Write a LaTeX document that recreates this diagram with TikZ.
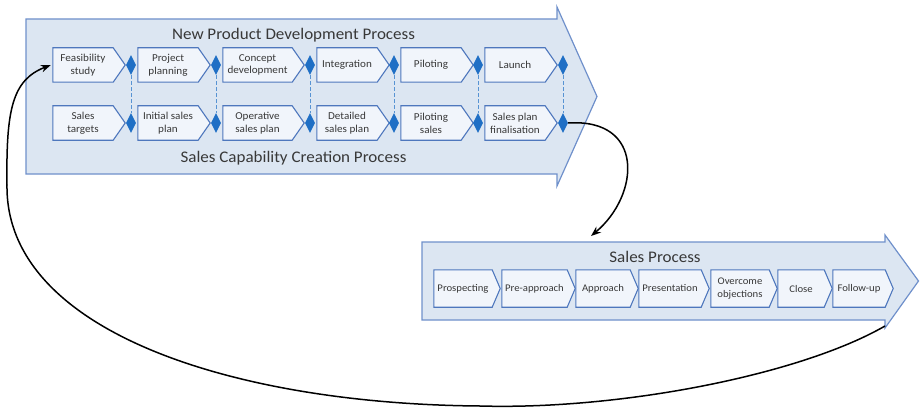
\documentclass[tikz,border=0pt]{standalone}
\usepackage{fontspec}
\setmainfont{Carlito}[FakeStretch=1.05]
\usetikzlibrary{shapes.geometric,arrows.meta}
\pgfdeclarelayer{back}
\pgfdeclarelayer{mid}
\pgfsetlayers{back,mid,main}
\definecolor{bandfill}{HTML}{DCE6F2}
\definecolor{bandline}{HTML}{6F90CB}
\definecolor{boxfill}{HTML}{F1F5FB}
\definecolor{boxline}{HTML}{4E77BD}
\definecolor{gate}{HTML}{1F6FC5}
\definecolor{txt}{HTML}{383838}

\begin{document}
\begin{tikzpicture}[x=1pt,y=-1pt,
  stage/.style={minimum height=34pt, inner sep=0pt, align=center, text=txt,
    font=\fontsize{10.6}{12.8}\selectfont},
  salestage/.style={minimum height=37pt, inner sep=0pt, align=center, text=txt,
    font=\fontsize{10.2}{12.8}\selectfont},
  gatemark/.style={diamond, fill=gate, draw=none, minimum width=10pt,
    minimum height=20pt, inner sep=0pt},
  outline/.style={draw=boxline, fill=boxfill, line width=1.1pt, line join=miter},
  band/.style={draw=bandline, fill=bandfill, line width=1.2pt, line join=miter},
  title/.style={text=txt, font=\fontsize{16.2}{18}\selectfont, anchor=base},
  link/.style={draw=gate!75, line width=0.9pt, dash pattern=on 3.5pt off 2.5pt},
  flow/.style={-{Stealth[length=10pt,width=7.5pt]}, line width=1.5pt, black}]

\useasboundingbox (0,0) rectangle (920,409);

% process bands
\begin{pgfonlayer}{back}
  \draw[band] (26,19) -- (557,19) -- (557,7) -- (597,96.5) -- (557,186)
    -- (557,174) -- (26,174) -- cycle;
  \draw[band] (422,242) -- (885,242) -- (885,235) -- (918.5,281) -- (885,328)
    -- (885,320) -- (422,320) -- cycle;
\end{pgfonlayer}

% band titles
\node[title] (npd) at (293.5,39.5) {New Product Development Process};
\node[title] (scc) at (293.5,162) {Sales Capability Creation Process};
\node[title] (sp)  at (655,262) {Sales Process};

% product development stages
\node[stage, minimum width=60pt] (feas)   at (83,65)    {Feasibility\\study};
\node[stage, minimum width=60pt] (proj)   at (168,65)   {Project\\planning};
\node[stage, minimum width=69pt] (conc)   at (257.5,65) {Concept\\development};
\node[stage, minimum width=60pt] (integ)  at (347,65)   {Integration};
\node[stage, minimum width=60pt] (pilot)  at (431,65)   {Piloting};
\node[stage, minimum width=60pt] (launch) at (515,65)   {Launch};

% sales capability stages
\node[stage, minimum width=60pt] (starg)  at (83,123)    {Sales\\targets};
\node[stage, minimum width=60pt] (isp)    at (168,123)   {Initial sales\\plan};
\node[stage, minimum width=69pt] (osp)    at (257.5,123) {Operative\\sales plan};
\node[stage, minimum width=60pt] (dsp)    at (347,123)   {Detailed\\sales plan};
\node[stage, minimum width=60pt] (psales) at (431,123)   {Piloting\\sales};
\node[stage, minimum width=60pt] (spf)    at (515,123)   {Sales plan\\finalisation};

% sales process stages
\node[salestage, minimum width=58pt] (prosp)  at (463,288.5)   {Prospecting};
\node[salestage, minimum width=65pt] (preap)  at (534.5,288.5) {Pre-approach};
\node[salestage, minimum width=54pt] (appr)   at (603,288.5)   {Approach};
\node[salestage, minimum width=62pt] (pres)   at (670,288.5)   {Presentation};
\node[salestage, minimum width=58pt] (overc)  at (740,288.5)   {Overcome\\objections};
\node[salestage, minimum width=46pt] (close)  at (801,288.5)   {Close};
\node[salestage, minimum width=52pt] (follow) at (859,288.5)   {Follow-up};

% chevron outlines behind the stage labels
\begin{pgfonlayer}{mid}
  \foreach \n in {feas,proj,conc,integ,pilot,launch,starg,isp,osp,dsp,psales,spf}
    \draw[outline] (\n.north west) -- (\n.north east) -- ([xshift=12pt]\n.east)
      -- (\n.south east) -- (\n.south west) -- cycle;
  \foreach \n in {prosp,preap,appr,pres,overc,close,follow}
    \draw[outline] (\n.north west) -- (\n.north east) -- ([xshift=8pt]\n.east)
      -- (\n.south east) -- (\n.south west) -- cycle;
\end{pgfonlayer}

% synchronisation gates
\foreach \g/\x in {a/131,b/216,c/310,d/394,e/478,f/563} {
  \node[gatemark] (t\g) at (\x,65) {};
  \node[gatemark] (b\g) at (\x,123) {};
  \draw[link] (t\g.south) -- (b\g.north);
}

% hand-over and feedback connectors
\coordinate (salesin)  at (591,236);
\coordinate (salesout) at (885,326);
\draw[flow] (bf.east) .. controls (645,118) and (640,195) .. (salesin);
\draw[flow] (salesout) .. controls (800,375) and (620,410) .. (480,406)
  .. controls (230,404) and (5,330) .. (7,185)
  .. controls (6,110) and (12,80) .. ([xshift=-2pt]feas.west);

\end{tikzpicture}
\end{document}
